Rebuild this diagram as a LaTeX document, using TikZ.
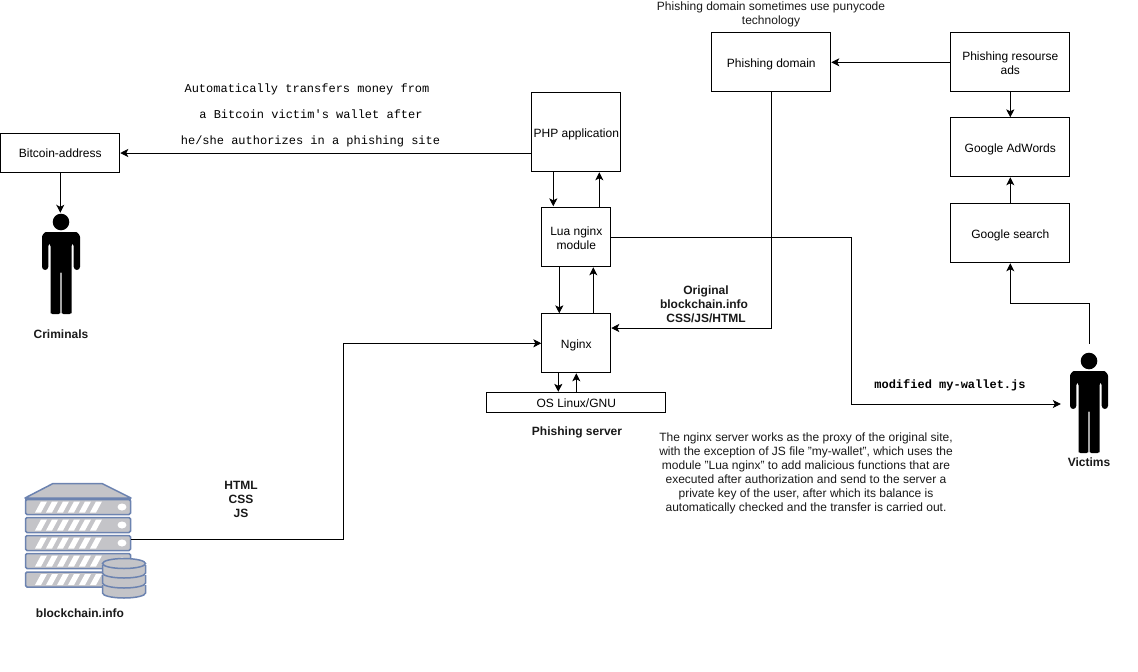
\documentclass[tikz,border=0pt]{standalone}
\usepackage{fontspec}
\setmainfont{Liberation Sans}
\setmonofont{Liberation Mono}
\usetikzlibrary{arrows.meta,positioning}
\definecolor{srvfill}{HTML}{C4C4C8}
\definecolor{srvline}{HTML}{6C83B0}
\newcommand{\lowered}[1]{\raisebox{-2pt}[\height][\depth]{\begin{tabular}{@{}c@{}}#1\end{tabular}}}
\tikzset{
  x=1pt,y=-1pt,
  box/.style={draw=black,line width=0.9pt,fill=white,inner sep=0pt,align=center,font=\fontsize{12}{14}\selectfont},
  txt/.style={inner sep=0pt,align=center,font=\fontsize{12}{14}\selectfont,text=black!90},
  btxt/.style={inner sep=0pt,align=center,font=\fontsize{12}{14}\selectfont\bfseries,text=black!90},
  mtxt/.style={inner sep=0pt,align=center,font=\fontsize{12}{14}\selectfont\ttfamily},
  arr/.style={draw=black,line width=0.9pt,-{Stealth[length=8pt,width=8pt,inset=2pt]}},
  srvrow/.style={draw=srvline,line width=1.5pt,fill=srvfill,rounded corners=1.5pt},
  person/.pic={
    \fill[black] (0,-91) circle (8.3);
    \fill[black,rounded corners=3.2pt] (-19,-43) -- (-19,-73) .. controls (-19,-78) and (-16,-81) .. (-12,-81) -- (12,-81) .. controls (16,-81) and (19,-78) .. (19,-73) -- (19,-43) -- (12.7,-43) -- (12.7,-70) -- (10.5,-70) -- (10.5,-3) .. controls (10.5,0) and (8,1) .. (5.5,1) .. controls (3,1) and (0.6,0) .. (0.6,-3) -- (0.6,-43) -- (-0.6,-43) -- (-0.6,-3) .. controls (-0.6,0) and (-3,1) .. (-5.5,1) .. controls (-8,1) and (-10.5,0) .. (-10.5,-3) -- (-10.5,-70) -- (-12.7,-70) -- (-12.7,-43) -- cycle;
  },
}
\begin{document}
\begin{tikzpicture}
\useasboundingbox (0,0) rectangle (1138,672);
% boxes
\node[box,minimum width=119pt,minimum height=59pt] (domain) at (771.3,62.3) {\lowered{Phishing domain}};
\node[box,minimum width=119pt,minimum height=59pt] (ads) at (1010.3,62.3) {\lowered{Phishing resourse\\ads}};
\node[box,minimum width=119pt,minimum height=59pt] (adwords) at (1010.3,147.3) {\lowered{Google AdWords}};
\node[box,minimum width=119pt,minimum height=59pt] (search) at (1010.3,233.3) {\lowered{Google search}};
\node[box,minimum width=89pt,minimum height=79pt] (php) at (576.3,132.3) {\lowered{PHP application}};
\node[box,minimum width=69pt,minimum height=59pt] (lua) at (576.3,237.3) {\lowered{Lua nginx\\module}};
\node[box,minimum width=69pt,minimum height=59pt] (nginx) at (576.3,343.3) {\lowered{Nginx}};
\node[box,minimum width=179pt,minimum height=20pt] (os) at (576.3,402.3) {\lowered{OS Linux/GNU}};
\node[box,minimum width=119pt,minimum height=38.6pt] (btc) at (60.3,153) {\lowered{Bitcoin-address}};
% people
\pic at (61,313) {person};
\pic at (1089,452) {person};
\node[inner sep=0pt,minimum width=40pt,minimum height=100pt] (crim) at (61,263) {};
\node[inner sep=0pt,minimum width=56pt,minimum height=108pt] (vict) at (1089,398) {};
% server icon
\fill[srvfill,draw=srvline,line width=1.5pt,line join=round] (25,498) -- (53,483.5) -- (102,483.5) -- (131,498) -- cycle;
\foreach \y in {499.5,517.5,535.5,553.5,572}{
  \draw[srvrow] (25.5,\y) rectangle (130.5,\y+15);
  \foreach \s in {0,1,...,5}{
    \fill[white] ({35+\s*11},\y+13) -- ({41+\s*11},\y+13) -- ({47+\s*11},\y+2) -- ({41+\s*11},\y+2) -- cycle;
  }
  \fill[white] (122,\y+7.5) ellipse (4.5 and 3.5);
}
\draw[srvline,line width=2.2pt] (25,499) -- (131,499);
\foreach \y in {585,575,565}{
  \draw[srvline,line width=1.5pt,fill=srvfill] (102.5,\y) -- (102.5,\y+8) arc[start angle=180,end angle=360,x radius=21.5,y radius=-5] -- (145.5,\y) ;
}
\draw[srvline,line width=1.5pt,fill=srvfill] (124,563.5) ellipse (21.5 and 5);
\node[inner sep=0pt,minimum width=106pt,minimum height=107pt] (server) at (78,537.5) {};
% connectors
\draw[arr] (php.west |- btc.east) -- (btc.east);
\draw[arr] (btc.south) -- (btc.south |- crim.north);
\draw[arr] ([xshift=-23pt]php.south) -- ([xshift=-23pt,yshift=1pt]lua.north -| php.south);
\draw[arr] ([xshift=23pt]lua.north) -- ([xshift=23pt]php.south);
\draw[arr] ([xshift=-17pt]lua.south) -- ([xshift=-17pt]nginx.north);
\draw[arr] ([xshift=17pt]nginx.north) -- ([xshift=17pt]lua.south);
\draw[arr] ([xshift=-18pt]nginx.south) -- ([xshift=-18pt]os.north);
\draw[arr] (os.north) -- (nginx.south);
\draw[arr] (domain.south) -- (domain.south |- 0,328) -- (nginx.east |- 0,328);
\draw[arr] (lua.east) -- (851,237.3) -- (851,404) -- (vict.west |- 0,404);
\draw[arr] (vict.north) -- (1089,303) -- (search.south |- 0,303) -- (search.south);
\draw[arr] (search.north) -- (adwords.south);
\draw[arr] (ads.south) -- (adwords.north);
\draw[arr] (ads.west) -- (domain.east);
\draw[arr] (server.east |- 0,539) -- (343.5,539) -- (343.5,343.3) -- (nginx.west);
% texts
\node[mtxt] (t1) at (307,89.5) {Automatically transfers money from};
\node[mtxt] (t2) at (311,114.5) {a Bitcoin victim's wallet after};
\node[mtxt] (t3) at (310.5,141) {he/she authorizes in a phishing site};
\node[txt] (t4) at (771,14.5) {Phishing domain sometimes use punycode\\technology};
\node[btxt] (t5) at (61,334) {Criminals};
\node[btxt] (t6) at (706,304.5) {Original\\blockchain.info\rule{4pt}{0pt}\\CSS/JS/HTML};
\node[btxt] (t7) at (577,432) {Phishing server};
\node[mtxt,font=\fontsize{12}{14}\selectfont\ttfamily\bfseries] (t8) at (950,385) {modified my-wallet.js};
\node[btxt] (t9) at (1089,462) {Victims};
\node[btxt] (t10) at (241,499) {HTML\\CSS\\JS};
\node[btxt] (t11) at (80,613) {blockchain.info};
\node[txt] (t12) at (806,473) {The nginx server works as the proxy of the original site,\\with the exception of JS file {\char34}my-wallet{\char34}, which uses the\\module {\char34}Lua nginx{\char34} to add malicious functions that are\\executed after authorization and send to the server a\\private key of the user, after which its balance is\\automatically checked and the transfer is carried out.};
\end{tikzpicture}
\end{document}
